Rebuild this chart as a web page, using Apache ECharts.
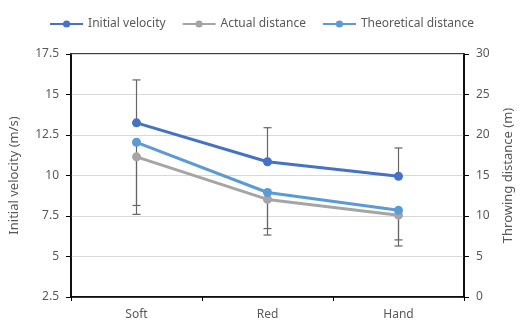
<!DOCTYPE html>
<html>
<head>
<meta charset="utf-8">
<script src="https://cdn.jsdelivr.net/npm/echarts@6/dist/echarts.min.js"></script>
<style>
  html, body { margin: 0; padding: 0; background: #fff; }
  #chart { width: 523px; height: 321px; }
</style>
</head>
<body>
<div id="chart"></div>
<script>
const categories = ['Soft', 'Red', 'Hand'];
const velocity = [13.25, 10.85, 9.95];
const velocityUpper = [15.9, 12.95, 11.7];
const actualDistance = [17.3, 12.05, 10.1];
const actualLower = [10.2, 7.65, 6.3];
const theoreticalDistance = [19.1, 12.9, 10.7];
const theoreticalLower = [11.3, 8.45, 7.05];

const font = 'Noto Sans';
const textColor = '#595959';

const chart = echarts.init(document.getElementById('chart'));

// error bar: line from the point value to the end value, with a cap at the end
function errorBar(yAxisIndex, base, ends) {
  return {
    type: 'custom',
    yAxisIndex: yAxisIndex,
    z: 1,
    silent: true,
    data: categories.map((c, i) => [i, base[i], ends[i]]),
    renderItem: (params, api) => {
      const p0 = api.coord([api.value(0), api.value(1)]);
      const p1 = api.coord([api.value(0), api.value(2)]);
      const style = { stroke: '#666', lineWidth: 1.2 };
      return {
        type: 'group',
        children: [
          { type: 'line', shape: { x1: p0[0], y1: p0[1], x2: p1[0], y2: p1[1] }, style },
          { type: 'line', shape: { x1: p1[0] - 4, y1: p1[1], x2: p1[0] + 4, y2: p1[1] }, style }
        ]
      };
    }
  };
}

function lineSeries(name, data, yAxisIndex, color) {
  return {
    name: name,
    type: 'line',
    yAxisIndex: yAxisIndex,
    data: data,
    z: 3,
    symbol: 'circle',
    symbolSize: 9,
    lineStyle: { width: 3, color: color },
    itemStyle: { color: color }
  };
}

const option = {
  animation: false,
  textStyle: { fontFamily: font },
  legend: {
    top: 13,
    left: 'center',
    itemWidth: 33,
    itemHeight: 9,
    itemGap: 16,
    textStyle: { fontFamily: font, fontSize: 12, color: textColor },
    data: ['Initial velocity', 'Actual distance', 'Theoretical distance']
  },
  grid: {
    left: 70,
    right: 47,
    top: 54,
    bottom: 23,
    show: true,
    borderColor: '#000',
    borderWidth: 1.5
  },
  xAxis: {
    type: 'category',
    data: categories,
    boundaryGap: true,
    axisLine: { lineStyle: { color: '#000', width: 1.5 } },
    axisTick: { show: true, length: 4, lineStyle: { color: '#000' } },
    axisLabel: { fontFamily: font, fontSize: 12, color: textColor, margin: 12 }
  },
  yAxis: [
    {
      type: 'value',
      min: 2.5,
      max: 17.5,
      interval: 2.5,
      name: 'Initial velocity (m/s)',
      nameLocation: 'middle',
      nameGap: 50,
      nameTextStyle: { fontFamily: font, fontSize: 13, color: textColor },
      axisLine: { show: true, lineStyle: { color: '#000', width: 1.5 } },
      axisTick: { show: true, length: 5, lineStyle: { color: '#000' } },
      axisLabel: { fontFamily: font, fontSize: 12, color: textColor, margin: 12 },
      splitLine: { lineStyle: { color: '#d9d9d9', width: 1 } }
    },
    {
      type: 'value',
      min: 0,
      max: 30,
      interval: 5,
      position: 'right',
      name: 'Throwing distance (m)',
      nameLocation: 'middle',
      nameGap: 38,
      nameTextStyle: { fontFamily: font, fontSize: 13, color: textColor },
      axisLine: { show: true, lineStyle: { color: '#000', width: 1.5 } },
      axisTick: { show: true, length: 5, lineStyle: { color: '#000' } },
      axisLabel: { fontFamily: font, fontSize: 12, color: textColor, margin: 12 },
      splitLine: { show: false }
    }
  ],
  series: [
    errorBar(0, velocity, velocityUpper),
    errorBar(1, actualDistance, actualLower),
    errorBar(1, theoreticalDistance, theoreticalLower),
    lineSeries('Initial velocity', velocity, 0, '#4472c4'),
    lineSeries('Actual distance', actualDistance, 1, '#a5a5a5'),
    lineSeries('Theoretical distance', theoreticalDistance, 1, '#5b9bd5')
  ]
};

chart.setOption(option);
</script>
</body>
</html>
